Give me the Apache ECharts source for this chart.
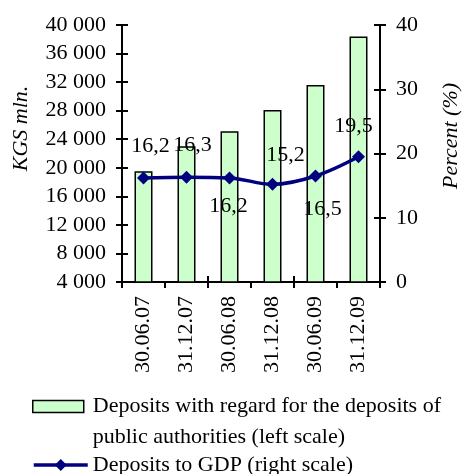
<!DOCTYPE html>
<html>
<head>
<meta charset="utf-8">
<script src="https://cdn.jsdelivr.net/npm/echarts@6/dist/echarts.min.js"></script>
<style>
  html, body { margin: 0; padding: 0; background: #fff; }
  #chart { width: 462px; height: 474px; }
</style>
</head>
<body>
<div id="chart"></div>
<script>
// Reporting dates
const categories = ['30.06.07', '31.12.07', '30.06.08', '31.12.08', '30.06.09', '31.12.09'];
// Deposits incl. public authorities, KGS mln. (left scale)
const deposits = [19500, 23000, 25100, 28100, 31600, 38400];
// Deposits to GDP, % (right scale)
const depositsToGdp = [16.2, 16.3, 16.2, 15.2, 16.5, 19.5];

// Axis ranges
const leftMin = 4000, leftMax = 40000, leftStep = 4000;
const rightMin = 0, rightMax = 40, rightStep = 10;

// Value label offsets (px) relative to each point
const labelOffsets = [[7, -32], [6, -32], [-1, 28], [13, -29], [7, 33], [-5, -30]];

const barName = 'Deposits with regard for the deposits of public authorities (left scale)';
const lineName = 'Deposits to GDP (right scale)';

const FONT = 'Liberation Serif';
const FS = 22;

const axisLineStyle = { color: '#000', width: 2 };
const fmtThousands = v => String(v).replace(/\B(?=(\d{3})+(?!\d))/g, ' ');

// Second copy of an axis carrying only inward ticks, so ticks cross the axis line
function innerTicks(base) {
  return Object.assign({}, base, {
    name: '',
    axisLine: { show: false },
    axisLabel: { show: false },
    splitLine: { show: false },
    axisTick: { show: true, inside: true, length: 6, lineStyle: axisLineStyle }
  });
}

const xBase = {
  type: 'category',
  data: categories,
  position: 'bottom',
  boundaryGap: true,
  axisLine: { show: true, lineStyle: axisLineStyle },
  axisTick: { show: true, length: 6, lineStyle: axisLineStyle },
  axisLabel: { rotate: 90, margin: 14, fontFamily: FONT, fontSize: FS, color: '#000' },
  splitLine: { show: false }
};

const yLeft = {
  type: 'value',
  position: 'left',
  min: leftMin, max: leftMax, interval: leftStep,
  name: 'KGS mln.',
  nameLocation: 'middle',
  nameRotate: 90,
  nameGap: 90,
  nameTextStyle: { fontFamily: FONT, fontSize: FS, fontStyle: 'italic', color: '#000', padding: [0, 0, 0, 50] },
  axisLine: { show: true, lineStyle: axisLineStyle },
  axisTick: { show: true, length: 6, lineStyle: axisLineStyle },
  axisLabel: { margin: 16, fontFamily: FONT, fontSize: FS, color: '#000', formatter: fmtThousands },
  splitLine: { show: false }
};

const yRight = {
  type: 'value',
  position: 'right',
  min: rightMin, max: rightMax, interval: rightStep,
  name: 'Percent (%)',
  nameLocation: 'middle',
  nameRotate: 90,
  nameGap: 60,
  nameTextStyle: { fontFamily: FONT, fontSize: FS, fontStyle: 'italic', color: '#000', padding: [0, 0, 0, 35] },
  axisLine: { show: true, lineStyle: axisLineStyle },
  axisTick: { show: true, length: 6, lineStyle: axisLineStyle },
  axisLabel: { margin: 16, fontFamily: FONT, fontSize: FS, color: '#000' },
  splitLine: { show: false }
};

const chart = echarts.init(document.getElementById('chart'), null, { renderer: 'canvas' });

chart.setOption({
  backgroundColor: '#fff',
  animation: false,
  textStyle: { fontFamily: FONT },
  grid: { left: 122, right: 82, top: 25, bottom: 192, containLabel: false, outerBoundsMode: 'none' },
  xAxis: [xBase, innerTicks(xBase)],
  yAxis: [yLeft, yRight, innerTicks(yLeft), innerTicks(yRight)],
  legend: [
    {
      data: [barName],
      left: 32, top: 360, padding: 0,
      orient: 'vertical',
      icon: 'rect',
      itemWidth: 51, itemHeight: 12,
      itemStyle: { color: '#CCFFCC', borderColor: '#000', borderWidth: 1.5 },
      // leading blank line keeps the icon level with the first text line
      formatter: n => '\n' + n.replace(' public', '\npublic'),
      textStyle: { fontFamily: FONT, fontSize: FS, color: '#000', lineHeight: 31, padding: [0, 0, 0, 4] }
    },
    {
      data: [lineName],
      left: 32, top: 453, padding: 0,
      orient: 'vertical',
      itemWidth: 54, itemHeight: 15,
      lineStyle: { width: 3.5, color: '#000080' },
      itemStyle: { color: '#000080' },
      textStyle: { fontFamily: FONT, fontSize: FS, color: '#000', lineHeight: 24 }
    }
  ],
  series: [
    {
      name: barName,
      type: 'bar',
      xAxisIndex: 0,
      yAxisIndex: 0,
      barWidth: 18,
      data: deposits,
      itemStyle: { color: '#CCFFCC', borderColor: '#000', borderWidth: 1.5 }
    },
    {
      name: lineName,
      type: 'line',
      xAxisIndex: 0,
      yAxisIndex: 1,
      smooth: 0.35,
      symbol: 'diamond',
      symbolSize: 13,
      lineStyle: { color: '#000080', width: 3.5 },
      itemStyle: { color: '#000080' },
      z: 5,
      label: {
        show: true,
        position: 'inside',
        fontFamily: FONT,
        fontSize: FS,
        color: '#000',
        formatter: p => String(p.value).replace('.', ',')
      },
      data: depositsToGdp.map((v, i) => ({ value: v, label: { offset: labelOffsets[i] } }))
    }
  ]
});
</script>
</body>
</html>
